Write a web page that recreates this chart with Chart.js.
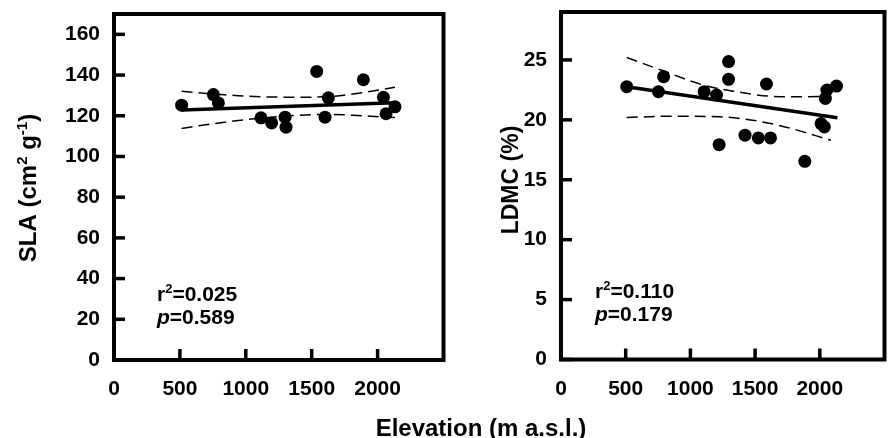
<!DOCTYPE html>
<html>
<head>
<meta charset="utf-8">
<script src="https://cdn.jsdelivr.net/npm/chart.js@4.4.0/dist/chart.umd.min.js"></script>
<style>
  body { margin: 0; background: #fff; width: 891px; height: 438px; position: relative; overflow: hidden; }
  .box { position: absolute; top: 0; height: 438px; }
  #boxSla { left: 0; width: 450px; }
  #boxLdmc { left: 450px; width: 441px; }
  #xTitle { position: absolute; left: 281px; width: 400px; top: 416px; text-align: center;
    font: bold 24px "Liberation Sans", Arial, sans-serif; line-height: 24px; color: #000; }
</style>
</head>
<body>
<div class="box" id="boxSla"><canvas id="slaChart"></canvas></div>
<div class="box" id="boxLdmc"><canvas id="ldmcChart"></canvas></div>
<div id="xTitle">Elevation (m a.s.l.)</div>
<script>
"use strict";
// --- SLA panel ---
var slaElev = [513, 754, 792, 1115, 1196, 1298, 1305, 1538, 1626, 1601, 1892, 2044, 2064, 2132];
var slaVals = [125.2, 130.4, 126.3, 119.0, 116.5, 119.3, 114.4, 141.8, 128.8, 119.3, 137.7, 129.1, 121.0, 124.4];
var slaFitElev = [513, 2132];
var slaFitVals = [122.8, 126.4];
var slaUpElev = [513, 800, 1007, 1411, 1664, 1876, 2132];
var slaUpVals = [132.0, 130.5, 129.6, 129.1, 129.6, 131.3, 134.0];
var slaLoElev = [513, 906, 1411, 1664, 1876, 2132];
var slaLoVals = [113.8, 117.4, 120.3, 120.6, 120.0, 119.1];

// --- LDMC panel ---
var ldmcElev = [508, 753, 793, 1106, 1202, 1222, 1295, 1295, 1422, 1525, 1619, 1588, 1884, 2010, 2035, 2043, 2055, 2129];
var ldmcVals = [22.77, 22.35, 23.6, 22.35, 22.07, 17.93, 24.86, 23.38, 18.72, 18.49, 18.49, 22.99, 16.54, 19.69, 19.41, 21.79, 22.49, 22.82];
var ldmcFitElev = [508, 2136];
var ldmcFitVals = [22.77, 20.17];
var ldmcUpElev = [508, 773, 1101, 1354, 1606, 1833, 2086];
var ldmcUpVals = [25.2, 24.16, 22.9, 22.35, 21.98, 21.93, 21.98];
var ldmcLoElev = [508, 848, 1227, 1480, 1732, 2086];
var ldmcLoVals = [20.2, 20.3, 20.25, 19.97, 19.41, 18.3];

var xTickVals = [0, 500, 1000, 1500, 2000];

var FONT = '"Liberation Sans", Arial, sans-serif';

function pts(xs, ys) {
  return xs.map(function (v, i) { return {x: v, y: ys[i]}; });
}

// draws a run of text pieces (some smaller/raised) starting at x, baseline y
function drawRich(ctx, parts, x, y, align) {
  var total = 0;
  parts.forEach(function (p) {
    ctx.font = (p.italic ? 'italic ' : '') + 'bold ' + p.size + 'px ' + FONT;
    p.w = ctx.measureText(p.text).width;
    total += p.w;
  });
  var cx = align === 'center' ? x - total / 2 : x;
  ctx.textAlign = 'left';
  ctx.textBaseline = 'alphabetic';
  parts.forEach(function (p) {
    ctx.font = (p.italic ? 'italic ' : '') + 'bold ' + p.size + 'px ' + FONT;
    ctx.fillText(p.text, cx, y - (p.rise || 0));
    cx += p.w;
  });
}

var framePlugin = {
  id: 'frame',
  afterDraw: function (chart, args, opts) {
    var ctx = chart.ctx, a = chart.chartArea;
    var xs = chart.scales.x, ys = chart.scales.y;
    ctx.save();
    ctx.strokeStyle = '#000';
    ctx.fillStyle = '#000';
    ctx.lineWidth = 4;
    ctx.strokeRect(a.left, a.top, a.right - a.left, a.bottom - a.top);
    ctx.lineWidth = 3.5;
    xs.ticks.forEach(function (t) {
      var px = xs.getPixelForValue(t.value);
      ctx.beginPath(); ctx.moveTo(px, a.bottom); ctx.lineTo(px, a.bottom - 11); ctx.stroke();
    });
    ys.ticks.forEach(function (t) {
      var py = ys.getPixelForValue(t.value);
      ctx.beginPath(); ctx.moveTo(a.left, py); ctx.lineTo(a.left + 11, py); ctx.stroke();
    });
    // stats text
    drawRich(ctx, opts.stat1, opts.statX, opts.statY, 'left');
    drawRich(ctx, opts.stat2, opts.statX, opts.statY + 23, 'left');
    // rotated y title
    ctx.translate(opts.titleX, opts.titleY);
    ctx.rotate(-Math.PI / 2);
    drawRich(ctx, opts.title, 0, 0, 'center');
    ctx.restore();
  }
};

function makePanel(id, cfg) {
  return new Chart(document.getElementById(id).getContext('2d'), {
    type: 'scatter',
    data: {
      datasets: [{
        data: pts(cfg.elev, cfg.vals),
        showLine: false,
        pointRadius: 6.5,
        pointBackgroundColor: '#000',
        pointBorderColor: '#000',
        pointBorderWidth: 0
      }, {
        data: pts(cfg.fitElev, cfg.fitVals),
        showLine: true,
        pointRadius: 0,
        borderColor: '#000',
        borderWidth: 3.5
      }, {
        data: pts(cfg.upElev, cfg.upVals),
        showLine: true,
        pointRadius: 0,
        borderColor: '#000',
        borderWidth: 1.5,
        borderDash: [11, 6],
        cubicInterpolationMode: 'monotone'
      }, {
        data: pts(cfg.loElev, cfg.loVals),
        showLine: true,
        pointRadius: 0,
        borderColor: '#000',
        borderWidth: 1.5,
        borderDash: [11, 6],
        cubicInterpolationMode: 'monotone'
      }]
    },
    options: {
      responsive: true,
      maintainAspectRatio: false,
      animation: false,
      layout: {padding: {top: cfg.top, right: cfg.right, bottom: 0, left: 0}},
      plugins: {
        legend: {display: false},
        tooltip: {enabled: false},
        frame: {
          title: cfg.title, titleX: cfg.titleX, titleY: cfg.titleY,
          stat1: cfg.stat1, stat2: cfg.stat2, statX: cfg.statX, statY: cfg.statY
        }
      },
      scales: {
        x: {
          type: 'linear', min: 0, max: 2500,
          grid: {display: false, drawTicks: false},
          border: {display: false},
          ticks: {
            stepSize: 500, padding: 17, color: '#000',
            font: {family: FONT, size: 21, weight: 'bold'},
            callback: function (v) { return String(v); }
          },
          afterBuildTicks: function (s) {
            s.ticks = xTickVals.map(function (v) { return {value: v}; });
          },
          afterFit: function (s) { s.height = cfg.xHeight; s.paddingLeft = 0; s.paddingRight = 0; }
        },
        y: {
          type: 'linear', min: 0, max: cfg.yMax,
          grid: {display: false, drawTicks: false},
          border: {display: false},
          ticks: {
            stepSize: cfg.yStep, padding: 14, color: '#000',
            font: {family: FONT, size: 21, weight: 'bold'},
            callback: function (v) { return String(v); }
          },
          afterBuildTicks: function (s) {
            s.ticks = cfg.yTicks.map(function (v) { return {value: v}; });
          },
          afterFit: function (s) { s.width = cfg.yWidth; s.paddingTop = 0; s.paddingBottom = 0; }
        }
      }
    },
    plugins: [framePlugin]
  });
}

var slaChart = makePanel('slaChart', {
  elev: slaElev, vals: slaVals,
  fitElev: slaFitElev, fitVals: slaFitVals,
  upElev: slaUpElev, upVals: slaUpVals,
  loElev: slaLoElev, loVals: slaLoVals,
  yMax: 170, yStep: 20, yTicks: [0, 20, 40, 60, 80, 100, 120, 140, 160],
  top: 14, right: 6, yWidth: 114, xHeight: 78,
  title: [{text: 'SLA (cm', size: 24}, {text: '2', size: 15, rise: 9}, {text: ' g', size: 24},
          {text: '-1', size: 15, rise: 9}, {text: ')', size: 24}],
  titleX: 36, titleY: 188,
  stat1: [{text: 'r', size: 21}, {text: '2', size: 13, rise: 8}, {text: '=0.025', size: 21}],
  stat2: [{text: 'p', size: 21, italic: true}, {text: '=0.589', size: 21}],
  statX: 157, statY: 301
});

var ldmcChart = makePanel('ldmcChart', {
  elev: ldmcElev, vals: ldmcVals,
  fitElev: ldmcFitElev, fitVals: ldmcFitVals,
  upElev: ldmcUpElev, upVals: ldmcUpVals,
  loElev: ldmcLoElev, loVals: ldmcLoVals,
  yMax: 29, yStep: 5, yTicks: [0, 5, 10, 15, 20, 25],
  top: 12, right: 1.5, yWidth: 111, xHeight: 78.5,
  title: [{text: 'LDMC (%)', size: 23}],
  titleX: 68, titleY: 180,
  stat1: [{text: 'r', size: 21}, {text: '2', size: 13, rise: 8}, {text: '=0.110', size: 21}],
  stat2: [{text: 'p', size: 21, italic: true}, {text: '=0.179', size: 21}],
  statX: 145, statY: 298
});
</script>
</body>
</html>
